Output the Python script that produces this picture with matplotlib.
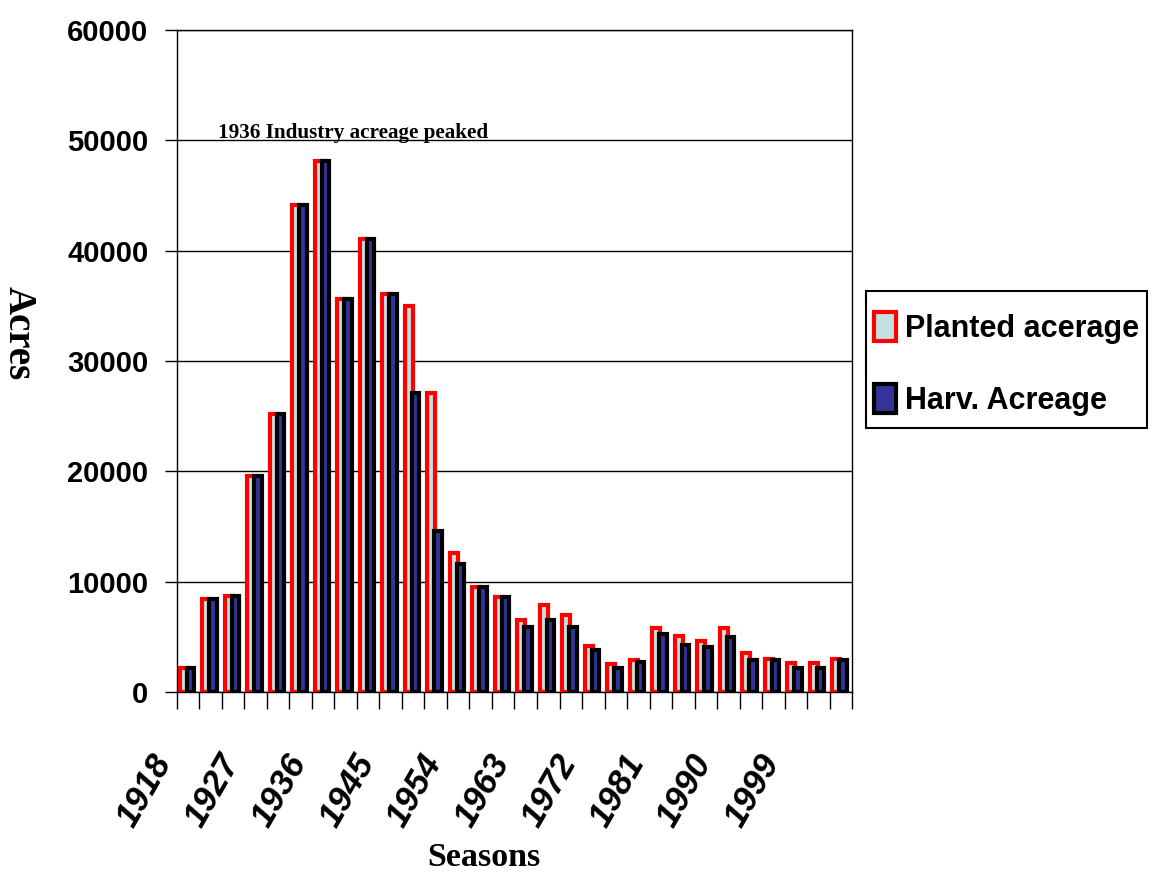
import matplotlib
matplotlib.use("Agg")
import matplotlib.pyplot as plt
import numpy as np
from matplotlib.patches import Rectangle
from matplotlib.transforms import ScaledTranslation

seasons = list(range(1918, 2006, 3))
planted = [2200, 8400, 8700, 19600, 25200, 44100, 48100, 35600, 41100, 36100,
           35000, 27100, 12600, 9500, 8600, 6500, 7900, 7000, 4200, 2500,
           2900, 5800, 5100, 4600, 5800, 3500, 3000, 2600, 2600, 3000]
harvested = [2200, 8400, 8700, 19600, 25200, 44100, 48100, 35600, 41100, 36100,
             27100, 14600, 11600, 9500, 8600, 5900, 6500, 5900, 3800, 2200,
             2700, 5300, 4300, 4100, 5000, 2900, 2900, 2200, 2200, 2900]
tick_labels = [str(s) for s in seasons[::3]]
yticks = [0, 10000, 20000, 30000, 40000, 50000, 60000]

sans = "Liberation Sans"
serif = "Liberation Serif"

fig = plt.figure(figsize=(11.55, 8.81), dpi=100)
ax = fig.add_axes([0.1532, 0.2145, 0.5845, 0.7515])

x = np.arange(len(seasons))
w = 0.34
shift = -0.05
ax.bar(x + shift - 0.149, planted, w, color="#c4e1e1", edgecolor="#ff0000",
       linewidth=3.0, zorder=3, label="Planted acerage")
ax.bar(x + shift + 0.149, harvested, w, color="#333399", edgecolor="black",
       linewidth=3.0, zorder=4, label="Harv. Acreage")

ax.set_yticks(yticks)
ax.set_yticklabels([str(v) for v in yticks], fontsize=21, fontweight="bold",
                   family=sans)
ax.yaxis.grid(True, color="black", linewidth=1.0, zorder=0)
ax.set_axisbelow(True)
ax.tick_params(axis="y", direction="out", length=8.6, width=1, pad=12)

ax.set_xticks(x[::3])
ax.set_xticks(np.arange(-0.5, len(seasons)), minor=True)
ax.set_xticklabels(tick_labels, fontsize=25, fontweight="bold", style="italic",
                   family=sans, rotation=60, ha="right", va="top",
                   rotation_mode="anchor")
ax.tick_params(axis="x", which="major", length=0, pad=41)
ax.tick_params(axis="x", which="minor", direction="out", length=12, width=1)
# labels sit left of their category, as in the original
for lbl in ax.get_xticklabels():
    lbl.set_transform(lbl.get_transform() +
                      ScaledTranslation(-0.385, 0, fig.dpi_scale_trans))

ax.set_xlim(-0.5, len(seasons) - 0.5)
ax.set_ylim(0, 60000)

for s in ax.spines.values():
    s.set_color("black")
    s.set_linewidth(1.0)

ax.set_xlabel("Seasons", fontsize=24.5, fontweight="bold", family=serif)
ax.xaxis.set_label_coords((484 - 177) / 675, -0.226)
ax.set_ylabel("Acres", fontsize=28, fontweight="bold", family=serif,
              rotation=270, va="center", ha="center")
ax.yaxis.set_label_coords(-0.235, 0.542)

ax.text(1.32, 50250, "1936 Industry acreage peaked", fontsize=15.2,
        fontweight="bold", family=serif, ha="left", va="baseline", zorder=5)

leg = fig.legend(loc="center left", bbox_to_anchor=(874 / 1155, 1 - 364 / 881),
                 prop={"family": sans, "weight": "bold", "size": 22},
                 frameon=False, handlelength=0.72, handleheight=1.08,
                 handletextpad=0.3, labelspacing=1.3, borderpad=0,
                 borderaxespad=0)
fig.patches.append(Rectangle((866 / 1155, 1 - 428 / 881), 281 / 1155, 137 / 881,
                             transform=fig.transFigure, fill=False,
                             edgecolor="black", linewidth=1.5))

fig.savefig("out.png", dpi=100)
